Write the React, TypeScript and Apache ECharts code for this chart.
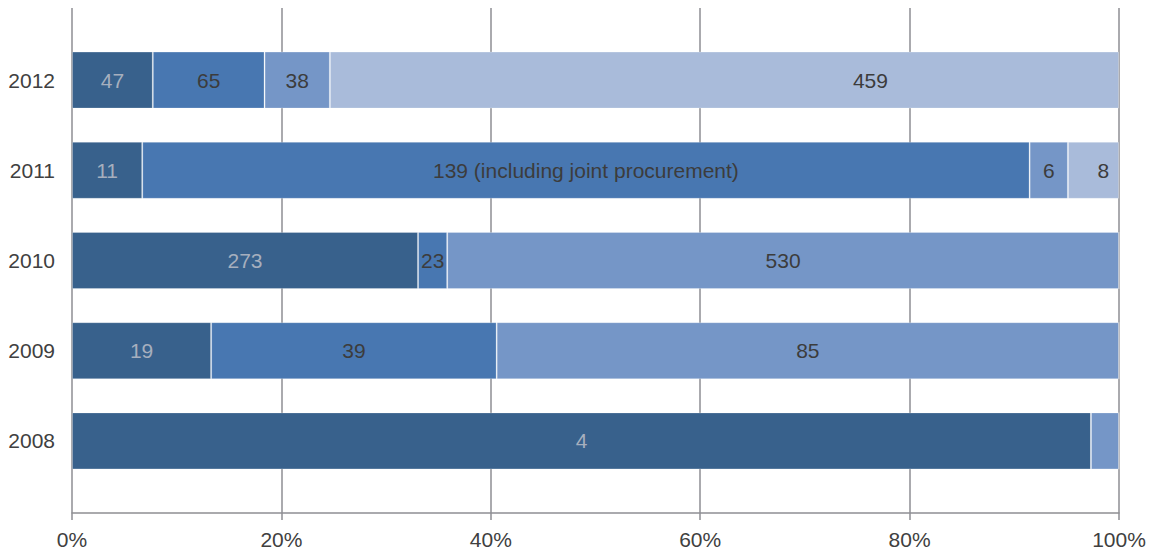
import React, { useEffect, useRef } from "react";
import * as echarts from "echarts";

const years = ["2008", "2009", "2010", "2011", "2012"];
const seriesA = [4, 19, 273, 11, 47];
const seriesB = [0, 39, 23, 139, 65];
const seriesC = [0.11, 85, 530, 6, 38];
const seriesD = [0, 0, 0, 8, 459];
const xTicks = [0, 20, 40, 60, 80, 100];
const jointNote = "139 (including joint procurement)";

const colors = ["#38618c", "#4877b1", "#7596c7", "#a9bbda"];
const FONT = "'Liberation Sans', Arial, Helvetica, sans-serif";

export default function App() {
  const ref = useRef<HTMLDivElement>(null);
  useEffect(() => {
    if (!ref.current) return;
    const chart = echarts.init(ref.current, null, { renderer: "svg" });
    const all = [seriesA, seriesB, seriesC, seriesD];
    const totals = years.map((_, i) => all.reduce((s, arr) => s + arr[i], 0));
    const gridColor = "#8e8e93";

    const mk = (arr: number[], idx: number) => ({
      type: "bar",
      stack: "total",
      xAxisIndex: 1,
      yAxisIndex: 1,
      barWidth: 57,
      itemStyle: {
        color: colors[idx],
        borderColor: "rgba(255,255,255,0.25)",
        borderWidth: 1,
      },
      label: {
        show: true,
        position: "inside",
        fontFamily: FONT,
        fontSize: 21,
        color: idx === 0 ? "#a6afbe" : "#3c3c3c",
        formatter: (p: any) => {
          const raw = arr[p.dataIndex];
          if (raw < 1) return "";
          if (idx === 1 && years[p.dataIndex] === "2011") return jointNote;
          return String(raw);
        },
      },
      data: arr.map((v, i) => {
        const item: any = { value: (v / totals[i]) * 100 };
        if (idx === 3 && years[i] === "2012") item.label = { offset: [146, 0] };
        if (idx === 3 && years[i] === "2011") item.label = { offset: [10, 0] };
        return item;
      }),
    });

    chart.setOption({
      animation: false,
      grid: [
        { left: 72, right: 55, top: 8, bottom: 40 },
        { left: 72, right: 55, top: 35, bottom: 67 },
      ],
      xAxis: [
        {
          type: "value",
          gridIndex: 0,
          min: xTicks[0],
          max: xTicks[xTicks.length - 1],
          interval: xTicks[1] - xTicks[0],
          axisLine: { show: true, lineStyle: { color: gridColor, width: 1.5 } },
          axisTick: { show: true, length: 7, lineStyle: { color: gridColor, width: 1.5 } },
          splitLine: { show: true, lineStyle: { color: gridColor, width: 1.5 } },
          axisLabel: {
            formatter: "{value}%",
            fontFamily: FONT,
            fontSize: 21,
            color: "#404040",
            margin: 16,
          },
        },
        {
          type: "value",
          gridIndex: 1,
          min: 0,
          max: 100,
          show: false,
        },
      ],
      yAxis: [
        { type: "value", gridIndex: 0, show: false, min: 0, max: 1, splitLine: { show: false } },
        {
          type: "category",
          gridIndex: 1,
          data: years,
          axisLine: { show: false },
          axisTick: { show: false },
          splitLine: { show: false },
          axisLabel: { fontFamily: FONT, fontSize: 21, color: "#404040", margin: 17 },
        },
      ],
      series: [mk(seriesA, 0), mk(seriesB, 1), mk(seriesC, 2), mk(seriesD, 3)],
    });
    return () => chart.dispose();
  }, []);
  return (
    <div
      ref={ref}
      style={{ position: "fixed", left: 0, top: 0, width: 1174, height: 553, background: "#fff" }}
    />
  );
}
